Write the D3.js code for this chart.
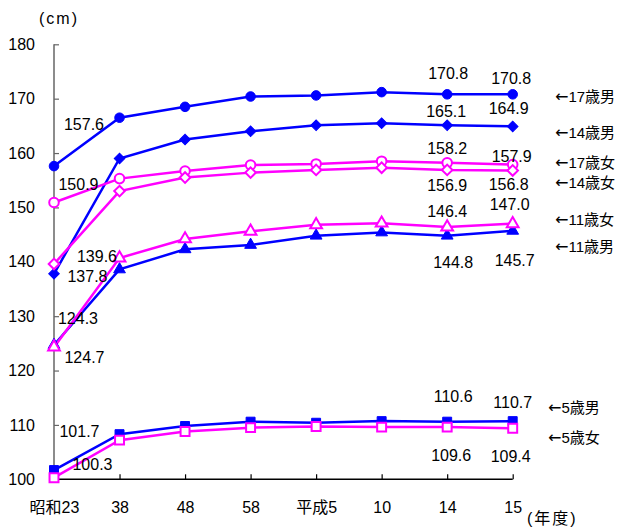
<!DOCTYPE html>
<html><head><meta charset="utf-8">
<script src="https://cdn.jsdelivr.net/npm/d3@7"></script>
<style>
html,body{margin:0;padding:0;background:#fff;}
text{font-family:"Liberation Sans","Noto Sans CJK JP",sans-serif;fill:#000;}
</style></head>
<body>
<svg id="chart" width="623" height="528"></svg>
<script>
const years = ["昭和23","38","48","58","平成5","10","14","15"];
const yTicks = [100,110,120,130,140,150,160,170,180];

const boys17  = [157.6,166.5,168.5,170.4,170.6,171.2,170.8,170.8];
const boys14  = [137.8,159.0,162.5,164.0,165.1,165.5,165.1,164.9];
const girls17 = [150.9,155.3,156.7,157.8,158.0,158.5,158.2,157.9];
const girls14 = [139.6,153.0,155.5,156.4,156.9,157.3,156.9,156.8];
const girls11 = [124.3,140.7,144.2,145.6,146.8,147.1,146.4,147.0];
const boys11  = [124.7,138.6,142.3,143.1,144.8,145.4,144.8,145.7];
const boys5   = [101.7,108.3,109.8,110.6,110.4,110.7,110.6,110.7];
const girls5  = [100.3,107.2,108.8,109.5,109.7,109.6,109.6,109.4];

const seriesNames = ["17歳男","14歳男","17歳女","14歳女","11歳女","11歳男","5歳男","5歳女"];

const BLUE = "#0000ff", MAG = "#ff00ff";

const series = [
  {name:"17歳男", values:boys17,  color:BLUE, shape:"circle",   filled:true},
  {name:"14歳男", values:boys14,  color:BLUE, shape:"diamond",  filled:true},
  {name:"17歳女", values:girls17, color:MAG,  shape:"circle",   filled:false},
  {name:"14歳女", values:girls14, color:MAG,  shape:"diamond",  filled:false},
  {name:"11歳男", values:boys11,  color:BLUE, shape:"triangle", filled:true},
  {name:"11歳女", values:girls11, color:MAG,  shape:"triangle", filled:false},
  {name:"5歳男",  values:boys5,   color:BLUE, shape:"square",   filled:true},
  {name:"5歳女",  values:girls5,  color:MAG,  shape:"square",   filled:false}
];

// label offsets (dx, dy) from the point, for the points that carry labels
const labelOffsets = {
  "17歳男": {0:[30,-42], 6:[1,-21], 7:[-1.5,-16]},
  "14歳男": {0:[33.5,2], 6:[-1,-14], 7:[-4,-18]},
  "17歳女": {0:[24.5,-18], 6:[0,-15], 7:[-1,-8.5]},
  "14歳女": {0:[43,-8], 6:[0,15], 7:[-4,14]},
  "11歳女": {0:[24,-29], 6:[0,-16], 7:[-3,-19.5]},
  "11歳男": {0:[30.5,12], 6:[6,27], 7:[2,29]},
  "5歳男":  {0:[25.5,-39], 6:[6,-25], 7:[0,-18.5]},
  "5歳女":  {0:[38.5,-13], 6:[4,28], 7:[-2,28.5]}
};

const legendPos = {
  "17歳男":[555,97],"14歳男":[555,133],"17歳女":[555,163],"14歳女":[555,183],
  "11歳女":[555,220],"11歳男":[555,247],"5歳男":[548,408],"5歳女":[548,438]
};

const svg = d3.select("#chart");
const x = d3.scalePoint().domain(years).range([54, 512.7]);
const y = d3.scaleLinear().domain([100,180]).range([479.3, 44.3]);

// y axis
const yAxis = d3.axisLeft(y).tickValues(yTicks).tickSize(-5).tickPadding(19).tickFormat(d3.format("d"));
const gy = svg.append("g").attr("transform","translate(54,0)").call(yAxis);
gy.select(".domain").attr("stroke","#666").attr("stroke-width",1.5).attr("d","M0,"+y(180)+"V"+y(100));
gy.selectAll(".tick line").attr("stroke","#666").attr("stroke-width",1.2);
gy.selectAll(".tick text").attr("font-size",16).attr("font-family","Liberation Sans, sans-serif");

// x axis
const xAxis = d3.axisBottom(x).tickSize(-5).tickPadding(19);
const gx = svg.append("g").attr("transform","translate(0,"+y(100)+")").call(xAxis);
gx.select(".domain").attr("stroke","#000").attr("stroke-width",1.5).attr("d","M54,0H512.7");
gx.selectAll(".tick line").attr("stroke","#000").attr("stroke-width",1.2);
gx.selectAll(".tick text").attr("font-size",16).attr("dy","0.9em");

// unit labels
svg.append("text").attr("x",39).attr("y",24).attr("font-size",16).attr("letter-spacing",2).text("(cm)");
svg.append("text").attr("x",527).attr("y",524).attr("font-size",16).attr("letter-spacing",2).text("(年度)");

// lines
const line = d3.line().x((d,i)=>x(years[i])).y(d=>y(d));
series.forEach(s=>{
  svg.append("path").datum(s.values).attr("d",line)
    .attr("fill","none").attr("stroke",s.color).attr("stroke-width",2.5);
});

// markers
function symbolPath(shape){
  if(shape==="circle") return d3.symbol(d3.symbolCircle, 72)();
  if(shape==="square") return d3.symbol(d3.symbolSquare, 80)();
  if(shape==="triangle") return d3.symbol(d3.symbolTriangle, 60)();
  if(shape==="diamond") return d3.symbol(d3.symbolSquare, 56)();
}
series.forEach(s=>{
  svg.append("g").selectAll("path").data(s.values).join("path")
    .attr("d",symbolPath(s.shape))
    .attr("transform",(d,i)=>"translate("+x(years[i])+","+y(d)+")"+(s.shape==="diamond"?" rotate(45)":""))
    .attr("fill",s.filled?s.color:"#fff")
    .attr("stroke",s.color).attr("stroke-width",s.filled?1:2);
});

// data labels
series.forEach(s=>{
  const offs = labelOffsets[s.name];
  Object.keys(offs).forEach(k=>{
    const i=+k, o=offs[k];
    svg.append("text")
      .attr("x",x(years[i])+o[0]).attr("y",y(s.values[i])+o[1])
      .attr("dy","0.36em").attr("text-anchor","middle").attr("font-size",16)
      .text(d3.format(".1f")(s.values[i]));
  });
});

// series name labels
seriesNames.forEach(n=>{
  const p = legendPos[n];
  const t = svg.append("text").attr("x",p[0]).attr("y",p[1]).attr("dy","0.36em")
    .attr("font-size",15).attr("font-family","Noto Sans CJK JP, sans-serif");
  t.append("tspan").attr("font-family","DejaVu Sans, sans-serif").attr("font-size",16).text("←");
  t.append("tspan").text(n);
});
</script>
</body></html>
